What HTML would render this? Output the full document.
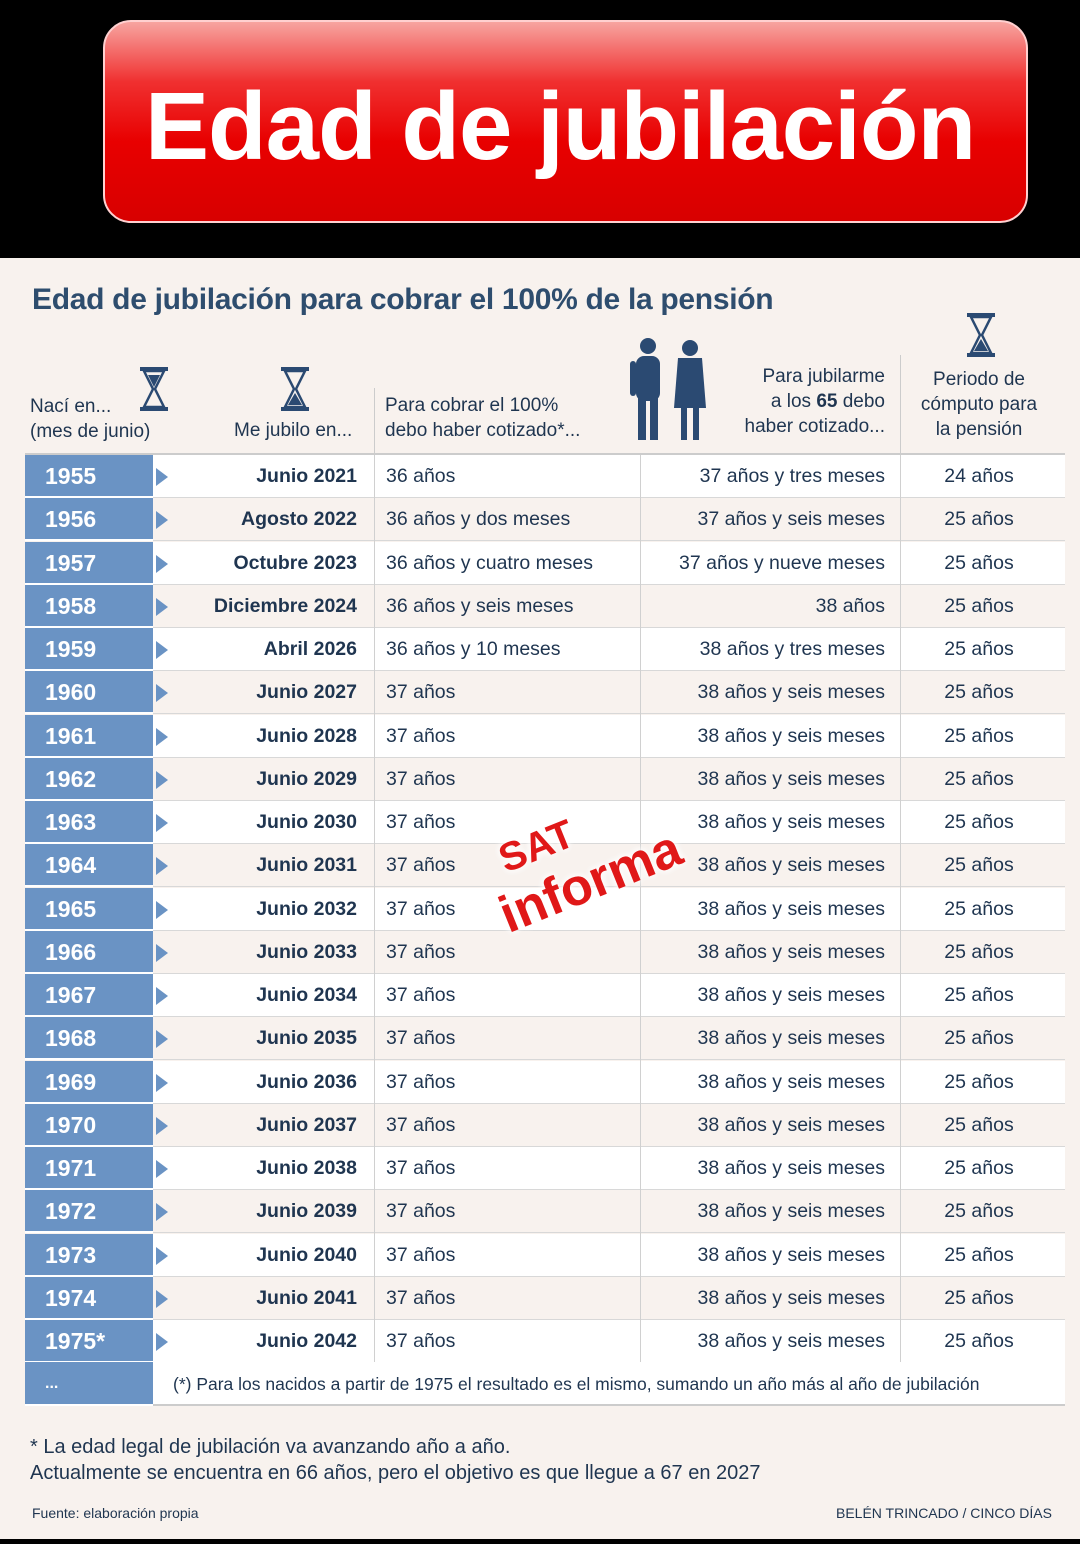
<!DOCTYPE html>
<html><head><meta charset="utf-8"><style>
*{margin:0;padding:0;box-sizing:border-box}
body{width:1080px;height:1544px;background:#f8f2ee;font-family:"Liberation Sans",sans-serif;position:relative;overflow:hidden;color:#1f3550}
.top{position:absolute;left:0;top:0;width:1080px;height:258px;background:#000}
.btn{position:absolute;left:103px;top:20px;width:925px;height:203px;border-radius:28px;background:linear-gradient(#f7a4a0 0%,#f03030 30%,#e80000 60%,#d80000 100%);border:2px solid #ffd0d0}
.btn span{position:absolute;left:40px;top:50px;font-size:96px;font-weight:bold;color:#fff;letter-spacing:-1px}
.ttl{position:absolute;left:32px;top:283px;font-size:30px;font-weight:bold;color:#2e4d6e;letter-spacing:-0.3px}
.h{position:absolute;font-size:19px;color:#1f3550;line-height:25px}
.row{position:absolute;left:25px;width:1040px;height:43px;border-bottom:1px solid #d8d8d8}
.yr{position:absolute;left:0;top:0;width:128px;height:43px;background:#6a93c4;color:#fff;font-weight:bold;font-size:23px;line-height:43px;padding-left:20px;border-bottom:2px solid #fff}
.ar{position:absolute;left:131px;top:13px;width:0;height:0;border-top:9px solid transparent;border-bottom:9px solid transparent;border-left:12px solid #6a93c4}
.c{position:absolute;top:0;line-height:43px;font-size:19.5px;color:#1f3550}
.vl{position:absolute;top:455px;width:1px;height:907px;background:#d0d0d0}
.hg{position:absolute;width:28px;height:44px}
</style></head><body>
<div class="top"></div>
<div class="btn"><span>Edad de jubilación</span></div>
<div class="ttl">Edad de jubilación para cobrar el 100% de la pensión</div>

<svg class="hg" style="left:140px;top:367px" viewBox="0 0 28 44"><rect x="0" y="0" width="28" height="4" fill="#2b4a72"/><rect x="0" y="40" width="28" height="4" fill="#2b4a72"/><path d="M4 4 L24 4 L15 22 L24 40 L4 40 L13 22Z" fill="none" stroke="#2b4a72" stroke-width="2.5"/><path d="M8 8 L20 8 L14 20Z" fill="#2b4a72"/></svg>
<svg class="hg" style="left:281px;top:367px" viewBox="0 0 28 44"><rect x="0" y="0" width="28" height="4" fill="#2b4a72"/><rect x="0" y="40" width="28" height="4" fill="#2b4a72"/><path d="M4 4 L24 4 L15 22 L24 40 L4 40 L13 22Z" fill="none" stroke="#2b4a72" stroke-width="2.5"/><path d="M7 38 L21 38 L14 26Z" fill="#2b4a72"/></svg>
<svg class="hg" style="left:967px;top:313px" viewBox="0 0 28 44"><rect x="0" y="0" width="28" height="4" fill="#2b4a72"/><rect x="0" y="40" width="28" height="4" fill="#2b4a72"/><path d="M4 4 L24 4 L15 22 L24 40 L4 40 L13 22Z" fill="none" stroke="#2b4a72" stroke-width="2.5"/><path d="M7 38 L21 38 L14 26Z" fill="#2b4a72"/></svg>
<svg style="position:absolute;left:628px;top:336px" width="82" height="104" viewBox="0 0 82 104"><circle cx="20" cy="10" r="8" fill="#2b4a72"/><rect x="8" y="20" width="24" height="45" rx="8" fill="#2b4a72"/><rect x="10" y="60" width="8" height="44" fill="#2b4a72"/><rect x="22" y="60" width="8" height="44" fill="#2b4a72"/><rect x="2" y="25" width="6" height="35" rx="3" fill="#2b4a72"/><circle cx="62" cy="12" r="8" fill="#2b4a72"/><path d="M50 22 L74 22 L78 72 L46 72Z" fill="#2b4a72"/><rect x="53" y="70" width="6" height="34" fill="#2b4a72"/><rect x="65" y="70" width="6" height="34" fill="#2b4a72"/></svg>

<div class="h" style="left:30px;top:394px">Nací en...<br>(mes de junio)</div>
<div class="h" style="left:234px;top:418px">Me jubilo en...</div>
<div class="h" style="left:385px;top:393px">Para cobrar el 100%<br>debo haber cotizado*...</div>
<div class="h" style="left:720px;top:364px;text-align:right;width:165px">Para jubilarme<br>a los <b>65</b> debo<br>haber cotizado...</div>
<div class="h" style="left:905px;top:367px;text-align:center;width:148px">Periodo de<br>cómputo para<br>la pensión</div>
<div style="position:absolute;left:374px;top:388px;width:1px;height:67px;background:#ccc"></div>
<div style="position:absolute;left:900px;top:355px;width:1px;height:100px;background:#ccc"></div>
<div style="position:absolute;left:25px;top:453px;width:1040px;height:2px;background:#ccc"></div>

<div id="rows"></div>
<script>
var d=[["1955","Junio 2021","36 años","37 años y tres meses","24 años"],
["1956","Agosto 2022","36 años y dos meses","37 años y seis meses","25 años"],
["1957","Octubre 2023","36 años y cuatro meses","37 años y nueve meses","25 años"],
["1958","Diciembre 2024","36 años y seis meses","38 años","25 años"],
["1959","Abril 2026","36 años y 10 meses","38 años y tres meses","25 años"]];
for(var y=1960;y<=1975;y++)d.push([y+(y==1975?"*":""),"Junio "+(y+67),"37 años","38 años y seis meses","25 años"]);
var h="";
d.forEach(function(r,i){var t=455+i*43.25;var bg=i%2?"#f8f2ee":"#fff";
h+='<div class="row" style="top:'+t+'px;background:'+bg+'"><div class="yr">'+r[0]+'</div><div class="ar"></div>'+
'<div class="c" style="right:708px;font-weight:bold">'+r[1]+'</div><div class="c" style="left:361px">'+r[2]+'</div>'+
'<div class="c" style="right:180px">'+r[3]+'</div><div class="c" style="left:876px;width:156px;text-align:center">'+r[4]+'</div></div>';});
h+='<div class="row" style="top:1362px;height:44px;background:#fff;border-bottom:2px solid #ccc"><div class="yr" style="height:44px;font-size:16px">...</div><div class="c" style="left:148px;font-size:17.5px;line-height:44px">(*) Para los nacidos a partir de 1975 el resultado es el mismo, sumando un año más al año de jubilación</div></div>';
document.getElementById("rows").innerHTML=h;
</script>
<div class="vl" style="left:374px"></div><div class="vl" style="left:640px"></div><div class="vl" style="left:900px"></div>

<div style="position:absolute;left:480px;top:800px;width:200px;height:140px;transform:rotate(-22deg);color:#e01818;font-weight:bold;text-shadow:0 0 8px #fff,0 0 8px #fff">
<div style="position:absolute;left:30px;top:10px;font-size:40px">SAT</div>
<div style="position:absolute;left:10px;top:55px;font-size:52px">informa</div></div>

<div style="position:absolute;left:30px;top:1434px;font-size:20px;line-height:26px;color:#1f3550">* La edad legal de jubilación va avanzando año a año.<br>Actualmente se encuentra en 66 años, pero el objetivo es que llegue a 67 en 2027</div>
<div style="position:absolute;left:32px;top:1505px;font-size:14px;color:#1f3550">Fuente: elaboración propia</div>
<div style="position:absolute;right:28px;top:1505px;font-size:14px;color:#1f3550">BELÉN TRINCADO / CINCO DÍAS</div>
<div style="position:absolute;left:0;top:1539px;width:1080px;height:5px;background:#000"></div>
</body></html>
